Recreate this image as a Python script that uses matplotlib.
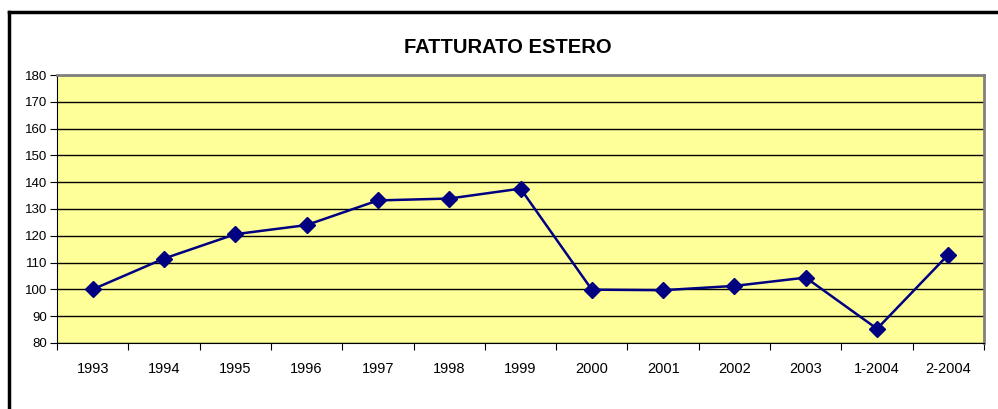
import matplotlib.pyplot as plt
from matplotlib.lines import Line2D

plt.rcParams['font.family'] = ['Liberation Sans', 'DejaVu Sans']

# ========================
# Data
# ========================

periods = ["1993", "1994", "1995", "1996", "1997", "1998", "1999",
           "2000", "2001", "2002", "2003", "1-2004", "2-2004"]
fatturato = [100.0, 111.5, 120.6, 124.0, 133.2, 133.9, 137.6,
             99.9, 99.7, 101.3, 104.4, 85.3, 113.0]

# ========================
# Plot
# ========================

fig = plt.figure(figsize=(9.98, 4.09), dpi=100)
ax = fig.add_axes([0.0571, 0.1614, 0.9289, 0.6552])
ax.set_facecolor("#FFFF99")

x = list(range(len(periods)))
ax.plot(x, fatturato, color="#000080", linewidth=1.8, marker="D",
        markersize=8, markerfacecolor="#000080", markeredgecolor="#000080",
        zorder=3)

ax.set_xlim(-0.5, len(periods) - 0.5)
ax.set_ylim(80, 180)
ax.set_yticks(range(80, 181, 10))
ax.yaxis.grid(True, color="black", linewidth=1)
ax.set_axisbelow(True)

# ticks between categories, labels centred under points
ax.set_xticks([i - 0.5 for i in range(len(periods) + 1)])
ax.set_xticklabels([])
ax.set_xticks(x, minor=True)
ax.set_xticklabels(periods, minor=True)
ax.tick_params(axis="x", which="major", length=5, direction="out", color="black")
ax.tick_params(axis="x", which="minor", length=0, pad=14, labelsize=10.5)
ax.tick_params(axis="y", length=5, direction="out", labelsize=9.5, pad=2)

for side in ["top", "right"]:
    ax.spines[side].set_color("#808080")
    ax.spines[side].set_linewidth(2)
ax.spines["left"].set_color("black")
ax.spines["bottom"].set_color("black")

fig.text(0.509, 0.883, "FATTURATO ESTERO", ha="center", va="center",
         fontsize=14.5, fontweight="bold")

# chart area border (top and left only visible)
fig.add_artist(Line2D([0.009, 1.0], [0.9707, 0.9707], color="black",
                      linewidth=2.5, transform=fig.transFigure))
fig.add_artist(Line2D([0.009, 0.009], [0.9707, 0.0], color="black",
                      linewidth=2.5, transform=fig.transFigure))

fig.savefig("out.png", dpi=100)
